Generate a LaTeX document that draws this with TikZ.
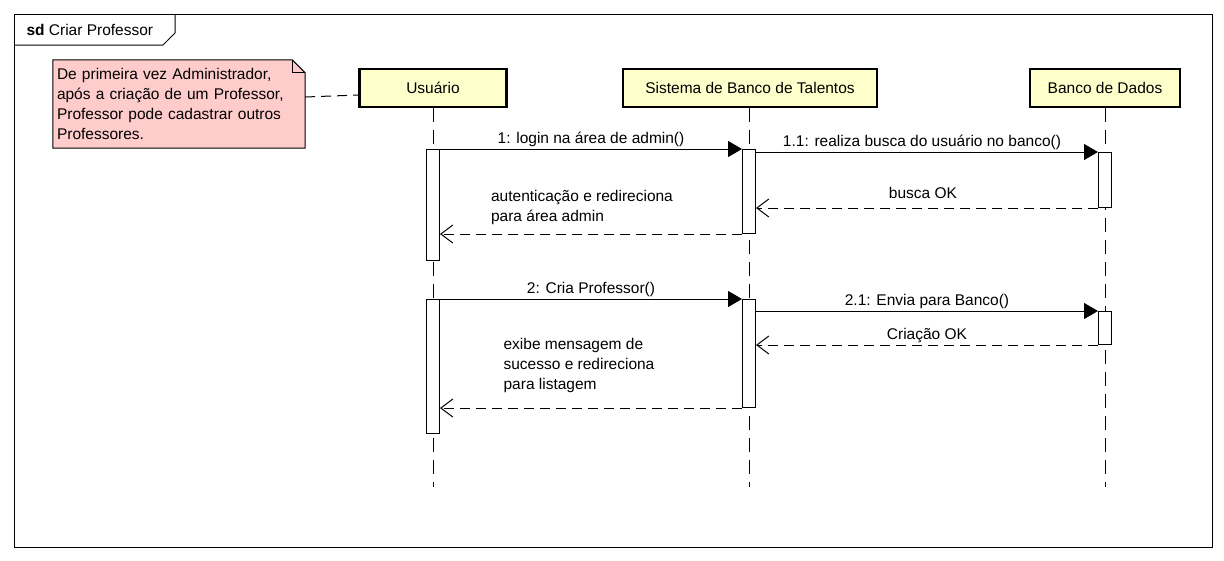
\documentclass[tikz,border=0pt]{standalone}
\usepackage{fontspec}
\setmainfont{Liberation Sans}
\usepackage{tikz}
\usetikzlibrary{arrows.meta}
\usetikzlibrary{backgrounds}
\usepackage{xcolor}
\definecolor{headfill}{RGB}{255,255,204}
\definecolor{notefill}{RGB}{255,204,204}

\begin{document}
\begin{tikzpicture}[x=1pt, y=-1pt, font=\fontsize{15.5}{20}\selectfont]
				    \tikzstyle{head}=[draw,line width = 2.6pt,fill=headfill,minimum height=38pt,inner sep=0pt]
				    \tikzstyle{act}=[draw,line width = 1pt,fill=white,minimum width=13pt,inner sep=0pt,anchor=north]
				    \tikzstyle{lifeline}=[draw,line width = 1pt,dash pattern=on 14pt off 8pt]
				    \tikzstyle{call}=[draw,line width = 1pt,-{Triangle[length=14pt,width=16pt]}]
				    \tikzstyle{reply}=[draw,line width = 1pt,dash pattern=on 10pt off 6pt,-{Straight Barb[length=12pt,width=18pt,line width=1pt]}]
				    \useasboundingbox (0,0) rectangle (1224,560);
				    % frame
				    \draw[line width = 1pt] (14,14) rectangle (1212,547);
				    \draw[line width = 1pt] (14,45) -- (163,45) -- (175,33) -- (175,14);
				    \node[anchor=west] (sd) at (23,30) {\textbf{sd} Criar Professor};
				    % lifelines
				    \node[head,minimum width=147pt] (usr) at (433,88) {Usuário};
				    \node[head,minimum width=254pt] (sys) at (750,88) {Sistema de Banco de Talentos};
				    \node[head,minimum width=150pt] (db) at (1105,88) {Banco de Dados};
				    \coordinate (usrend) at (433,487);
				    \coordinate (sysend) at (749,487);
				    \coordinate (dbend) at (1105,487);
				    \draw[lifeline] (usr.south) -- (usrend);
				    \draw[lifeline] (sys.south -| sysend) -- (sysend);
				    \draw[lifeline] (db.south) -- (dbend);
				    % note
				    \node[minimum width=252pt,minimum height=88pt,text width=244pt,align=left,inner sep=0pt] (note) at (179,104)
				      {De primeira vez Administrador,\\após a criação de um Professor,\\Professor pode cadastrar outros\\Professores.};
				    \begin{scope}[on background layer]
				    \filldraw[fill=notefill,line width = 1pt] (note.north west) -- ([xshift=-13pt]note.north east) -- ([yshift=-13pt]note.north east)
				      -- (note.south east) -- (note.south west) -- cycle;
				    \draw[line width = 1pt] ([xshift=-13pt]note.north east) -- ([xshift=-13pt,yshift=-13pt]note.north east) -- ([yshift=-13pt]note.north east);
				    \end{scope}
				    \draw[line width = 1pt,dash pattern=on 10pt off 6pt] ([yshift=7pt]note.east) -- ([yshift=-7pt]usr.west);
				    % activations
				    \node[act,minimum height=111pt] (ua1) at (433,149) {};
				    \node[act,minimum height=84pt] (sa1) at (749,149) {};
				    \node[act,minimum height=55pt] (ba1) at (1105,152) {};
				    \node[act,minimum height=134pt] (ua2) at (433,299) {};
				    \node[act,minimum height=108pt] (sa2) at (749,299) {};
				    \node[act,minimum height=33pt] (ba2) at (1105,311) {};
				    % messages
				    \draw[call] (ua1.north east) -- node[above,inner sep=2pt] {1: login na área de admin()} (sa1.north west);
				    \draw[call] (sa1.east |- ba1.north) -- node[above,inner sep=2pt,xshift=-5pt] {1.1: realiza busca do usuário no banco()} (ba1.north west);
				    \draw[reply] (ba1.south west) -- node[above,inner sep=9pt,xshift=-4pt] {busca OK} (sa1.east |- ba1.south);
				    \draw[reply] (sa1.south west) -- node[above,inner sep=9pt,align=left,xshift=-9pt] {autenticação e redireciona\\para área admin} (ua1.east |- sa1.south);
				    \draw[call] (ua2.north east) -- node[above,inner sep=2pt] {2: Cria Professor()} (sa2.north west);
				    \draw[call] (sa2.east |- ba2.north) -- node[above,inner sep=2pt] {2.1: Envia para Banco()} (ba2.north west);
				    \draw[reply] (ba2.south west) -- node[above,inner sep=2pt] {Criação OK} (sa2.east |- ba2.south);
				    \draw[reply] (sa2.south west) -- node[above,inner sep=15pt,align=left,xshift=-12pt] {exibe mensagem de\\sucesso e redireciona\\para listagem} (ua2.east |- sa2.south);
				\end{tikzpicture}
\end{document}
